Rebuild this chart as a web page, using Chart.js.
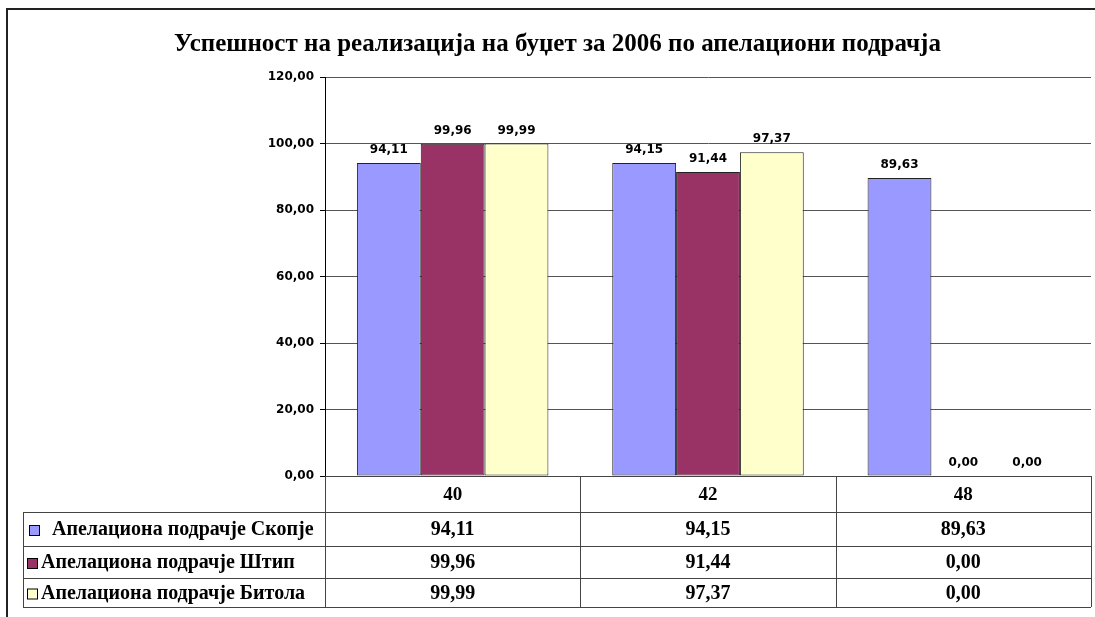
<!DOCTYPE html>
<html lang="mk">
<head>
    <meta charset="UTF-8">
    <title>Успешност на реализација на буџет за 2006</title>
    <script src="https://cdn.jsdelivr.net/npm/chart.js"></script>
    <style>
        html, body { margin: 0; padding: 0; background: #fff; }
        #wrap { position: relative; width: 1095px; height: 617px; }
    </style>
</head>
<body>
    <div id="wrap">
        <canvas id="budgetChart" width="1095" height="617"></canvas>
    </div>
    <script>
        // Data
        const categories = ['40', '42', '48'];
        const seriesNames = [
            'Апелациона подрачје Скопје',
            'Апелациона подрачје Штип',
            'Апелациона подрачје Битола'
        ];
        const skopjeValues = [94.11, 94.15, 89.63];
        const shtipValues = [99.96, 91.44, 0.00];
        const bitolaValues = [99.99, 97.37, 0.00];
        const yMin = 0;
        const yMax = 120;
        const yStep = 20;

        const seriesColors = ['#9999ff', '#993366', '#ffffcc'];
        const serif = '"Liberation Serif", "Times New Roman", serif';
        const sans = '"DejaVu Sans", Tahoma, sans-serif';

        const fmt = v => v.toFixed(2).replace('.', ',');

        // Outer frame of the chart object
        const framePlugin = {
            id: 'frame',
            beforeDraw(chart) {
                const ctx = chart.ctx;
                ctx.save();
                ctx.strokeStyle = '#222';
                ctx.lineWidth = 2;
                ctx.beginPath();
                ctx.moveTo(7, chart.height + 5);
                ctx.lineTo(7, 9);
                ctx.lineTo(chart.width + 5, 9);
                ctx.stroke();
                ctx.restore();
            }
        };

        // Value labels above bars
        const valueLabels = {
            id: 'valueLabels',
            afterDatasetsDraw(chart) {
                const ctx = chart.ctx;
                ctx.save();
                ctx.font = 'bold 12px ' + sans;
                ctx.fillStyle = '#000';
                ctx.textAlign = 'center';
                ctx.textBaseline = 'bottom';
                chart.data.datasets.forEach((ds, di) => {
                    chart.getDatasetMeta(di).data.forEach((bar, i) => {
                        ctx.fillText(fmt(ds.data[i]), bar.x, bar.y - 7);
                    });
                });
                ctx.restore();
            }
        };

        // Data table under the plot (header row uses the x axis labels)
        const dataTable = {
            id: 'dataTable',
            afterDraw(chart) {
                const ctx = chart.ctx;
                const x = chart.scales.x;
                const area = chart.chartArea;
                const step = x.getPixelForTick(1) - x.getPixelForTick(0);
                const edges = categories.map((c, i) => x.getPixelForTick(i) - step / 2);
                edges.push(x.getPixelForTick(categories.length - 1) + step / 2);
                const rows = [area.bottom, 512, 546, 578, 607];
                const legendLeft = 23;

                ctx.save();
                ctx.strokeStyle = '#444';
                ctx.lineWidth = 1;
                ctx.beginPath();
                // horizontal lines
                ctx.moveTo(edges[0], rows[0] + 0.5);
                ctx.lineTo(edges[edges.length - 1], rows[0] + 0.5);
                for (let r = 1; r < rows.length; r++) {
                    ctx.moveTo(legendLeft, rows[r] + 0.5);
                    ctx.lineTo(edges[edges.length - 1], rows[r] + 0.5);
                }
                // vertical lines
                edges.forEach(e => {
                    ctx.moveTo(Math.round(e) + 0.5, rows[0]);
                    ctx.lineTo(Math.round(e) + 0.5, rows[rows.length - 1]);
                });
                ctx.moveTo(legendLeft + 0.5, rows[1]);
                ctx.lineTo(legendLeft + 0.5, rows[rows.length - 1]);
                ctx.stroke();

                ctx.font = 'bold 20px ' + serif;
                ctx.fillStyle = '#000';
                ctx.textBaseline = 'middle';
                chart.data.datasets.forEach((ds, di) => {
                    const top = rows[di + 1];
                    const mid = (top + rows[di + 2]) / 2 + 1;
                    const sx = di === 0 ? 29 : 27;
                    ctx.fillStyle = ds.backgroundColor;
                    ctx.fillRect(sx, mid - 5, 10, 10);
                    ctx.strokeStyle = '#000';
                    ctx.strokeRect(sx + 0.5, mid - 4.5, 10, 10);
                    ctx.fillStyle = '#000';
                    ctx.textAlign = 'left';
                    ctx.fillText(ds.label, di === 0 ? 52 : 41, mid);
                    ctx.textAlign = 'center';
                    ds.data.forEach((v, i) => {
                        ctx.fillText(fmt(v), x.getPixelForTick(i), mid);
                    });
                });
                ctx.restore();
            }
        };

        const ctx = document.getElementById('budgetChart').getContext('2d');
        new Chart(ctx, {
            type: 'bar',
            data: {
                labels: categories,
                datasets: [
                    { label: seriesNames[0], data: skopjeValues, backgroundColor: seriesColors[0] },
                    { label: seriesNames[1], data: shtipValues, backgroundColor: seriesColors[1] },
                    { label: seriesNames[2], data: bitolaValues, backgroundColor: seriesColors[2] }
                ].map(d => Object.assign(d, {
                    borderColor: '#222',
                    borderWidth: 1,
                    borderSkipped: false,
                    barPercentage: 1,
                    categoryPercentage: 0.75
                }))
            },
            options: {
                responsive: false,
                animation: false,
                layout: { padding: { left: 24, right: 4, top: 0, bottom: 0 } },
                plugins: {
                    legend: { display: false },
                    tooltip: { enabled: false },
                    title: {
                        display: true,
                        text: 'Успешност на реализација на буџет за 2006 по апелациони подрачја',
                        color: '#000',
                        font: { family: serif, size: 25, weight: 'bold' },
                        padding: { top: 30, bottom: 17 }
                    }
                },
                scales: {
                    x: {
                        afterFit(s) { s.height = 141; },
                        grid: { display: false, drawTicks: false },
                        border: { display: true, color: '#000', width: 1 },
                        ticks: {
                            color: '#000',
                            padding: 8,
                            font: { family: serif, size: 19, weight: 'bold' }
                        }
                    },
                    y: {
                        min: yMin,
                        max: yMax,
                        afterFit(s) { s.width = 301; },
                        grid: { color: '#555', tickLength: 5, tickColor: '#000' },
                        border: { display: true, color: '#000', width: 1 },
                        ticks: {
                            stepSize: yStep,
                            color: '#000',
                            padding: 6,
                            font: { family: sans, size: 12, weight: 'bold' },
                            callback: v => fmt(v)
                        }
                    }
                }
            },
            plugins: [framePlugin, valueLabels, dataTable]
        });
    </script>
</body>
</html>
